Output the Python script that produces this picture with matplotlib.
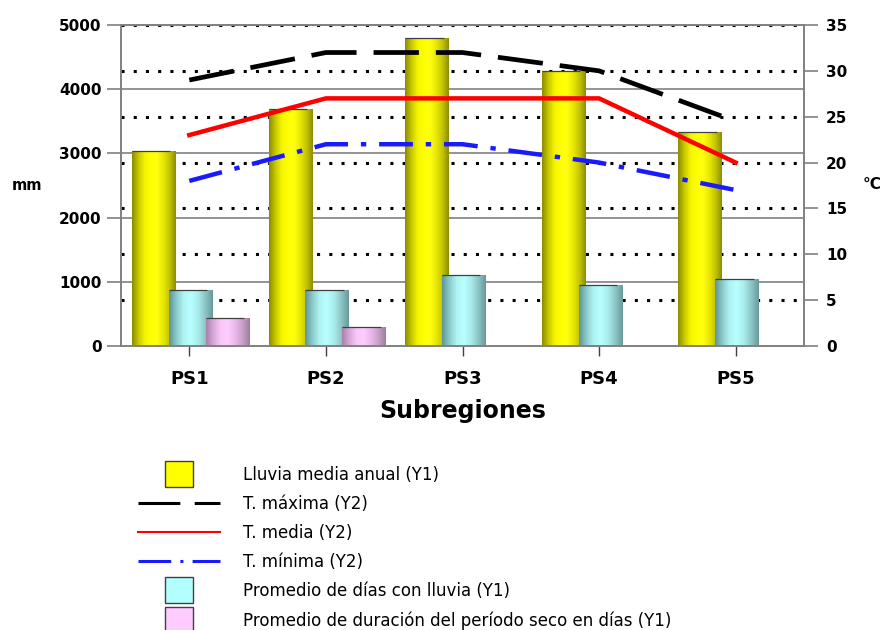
import numpy as np
import matplotlib.pyplot as plt
from matplotlib.colors import LinearSegmentedColormap
from matplotlib.lines import Line2D
from matplotlib.patches import Patch, Rectangle
from matplotlib.legend_handler import HandlerPatch
from matplotlib import transforms

plt.rcParams['font.family'] = ['DejaVu Sans']

# Data
regions = ['PS1', 'PS2', 'PS3', 'PS4', 'PS5']
lluvia = [3040, 3690, 4800, 4280, 3330]          # mm (Y1)
dias_lluvia = [880, 880, 1110, 950, 1040]        # Y1
periodo_seco = [440, 290, 0, 0, 0]               # Y1
t_max = [29, 32, 32, 30, 24.5]                   # °C (Y2)
t_media = [23, 27, 27, 27, 20]
t_min = [18, 22, 22, 20, 17]

y1_ticks = [0, 1000, 2000, 3000, 4000, 5000]
y2_ticks = [0, 5, 10, 15, 20, 25, 30, 35]

fig = plt.figure(figsize=(8.87, 6.3), dpi=100)
ax = fig.add_axes([121 / 887, 1 - 346 / 630, 683 / 887, 321 / 630])
ax2 = ax.twinx()

x = np.arange(len(regions))
width = 0.32
offsets = [-0.26, 0.01, 0.28]

ax.set_xlim(-0.5, len(regions) - 0.5)
ax.set_ylim(0, 5000)
ax2.set_ylim(0, 35)

# grids (behind bars)
for v in y1_ticks[1:]:
    ax.axhline(v, color='#808080', lw=1.2, zorder=0.5)
blend = transforms.blended_transform_factory(ax.transAxes, ax2.transData)
for v in y2_ticks[1:]:
    ax.plot([0, 1], [v, v], transform=blend, color='black', lw=2.2,
            linestyle=(0, (1, 3.0)), zorder=0.6)

cmaps = {
    'yellow': LinearSegmentedColormap.from_list(
        'y', ['#8a8a00', '#c8c800', '#f4f400', '#ffff00', '#ffff10', '#e8e800', '#c4c400', '#8c8c00']),
    'cyan': LinearSegmentedColormap.from_list(
        'c', ['#5f9494', '#8ccaca', '#b0f4f4', '#b8ffff', '#a8ecec', '#8cc4c4', '#689898']),
    'pink': LinearSegmentedColormap.from_list(
        'p', ['#a880a8', '#d8a8d8', '#f8c8f8', '#ffccff', '#eab8ea', '#c8a0c8', '#9c7c9c']),
}
base = {'yellow': '#ffff00', 'cyan': '#b3ffff', 'pink': '#ffccff'}

grad = np.linspace(0, 1, 128).reshape(1, -1)


def shaded_bars(values, off, key):
    bars = ax.bar(x + off, values, width, color=base[key], lw=0, zorder=2)
    for b in bars:
        bx, bw, bh = b.get_x(), b.get_width(), b.get_height()
        if bh <= 0:
            continue
        im = ax.imshow(grad, cmap=cmaps[key], extent=[bx, bx + bw, 0, bh],
                       aspect='auto', zorder=2.1, interpolation='bilinear')
        im.set_clip_path(b)
        ax.hlines(bh, bx, bx + bw * 0.88, color='#404040', lw=0.9, zorder=2.2)
    return bars


shaded_bars(lluvia, offsets[0], 'yellow')
shaded_bars(dias_lluvia, offsets[1], 'cyan')
shaded_bars(periodo_seco, offsets[2], 'pink')

ax.set_xlim(-0.5, len(regions) - 0.5)
ax.set_ylim(0, 5000)

# temperature lines
ax2.plot(x, t_max, color='black', lw=3.4, linestyle=(0, (9.6, 3.6)), zorder=3)
ax2.plot(x, t_media, color='#ff0000', lw=3.2, zorder=3)
ax2.plot(x, t_min, color='#1a1aff', lw=3.2, linestyle=(0, (7.6, 2.9, 1.2, 2.9)), zorder=3)

# axes styling
for a in (ax, ax2):
    for s in a.spines.values():
        s.set_color('#808080')
        s.set_linewidth(1.2)
ax.set_yticks(y1_ticks)
ax.set_yticklabels([str(v) for v in y1_ticks], fontweight='bold', fontsize=11)
ax2.set_yticks(y2_ticks)
ax2.set_yticklabels([str(v) for v in y2_ticks], fontweight='bold', fontsize=11)
ax.tick_params(axis='y', length=10, width=1.2, color='#808080', pad=4)
ax2.tick_params(axis='y', length=10, width=1.2, color='#808080', pad=6)
ax.set_xticks(x)
ax.set_xticklabels(regions, fontweight='bold', fontsize=13)
ax.tick_params(axis='x', length=7, width=1, color='#404040', pad=10.5)
ax.set_xlabel('Subregiones', fontweight='bold', fontsize=17, labelpad=8)

fig.text(27 / 887, 1 - 185 / 630, 'mm', fontweight='bold', fontsize=10.5,
         ha='center', va='center')
fig.text(872 / 887, 1 - 184 / 630, '°C', fontweight='bold', fontsize=11,
         ha='center', va='center')


# legend
def square(legend, orig_handle, xdescent, ydescent, width, height, fontsize):
    w, h = 20, 18.5
    return Rectangle((width / 2 - w / 2 - xdescent, height / 2 - h / 2 - ydescent), w, h)


handles = [
    Patch(facecolor='#ffff00', edgecolor='#404040', lw=1.0),
    Line2D([], [], color='black', lw=2.2, linestyle=(0, (13.7, 4.7))),
    Line2D([], [], color='#ff0000', lw=1.5),
    Line2D([], [], color='#1a1aff', lw=2.2, linestyle=(0, (10.7, 3, 1, 3))),
    Patch(facecolor='#b3ffff', edgecolor='#404040', lw=1.0),
    Patch(facecolor='#ffccff', edgecolor='#404040', lw=1.0),
]
labels = [
    'Lluvia media anual (Y1)',
    'T. máxima (Y2)',
    'T. media (Y2)',
    'T. mínima (Y2)',
    'Promedio de días con lluvia (Y1)',
    'Promedio de duración del período seco en días (Y1)',
]
fig.legend(handles, labels, loc='upper left', bbox_to_anchor=(138 / 887, 1 - 466 / 630),
           frameon=False, fontsize=12, handlelength=4.9, handletextpad=1.38,
           labelspacing=0.66, borderpad=0, borderaxespad=0,
           handler_map={Patch: HandlerPatch(patch_func=square)})

fig.savefig('out.png', dpi=100)
